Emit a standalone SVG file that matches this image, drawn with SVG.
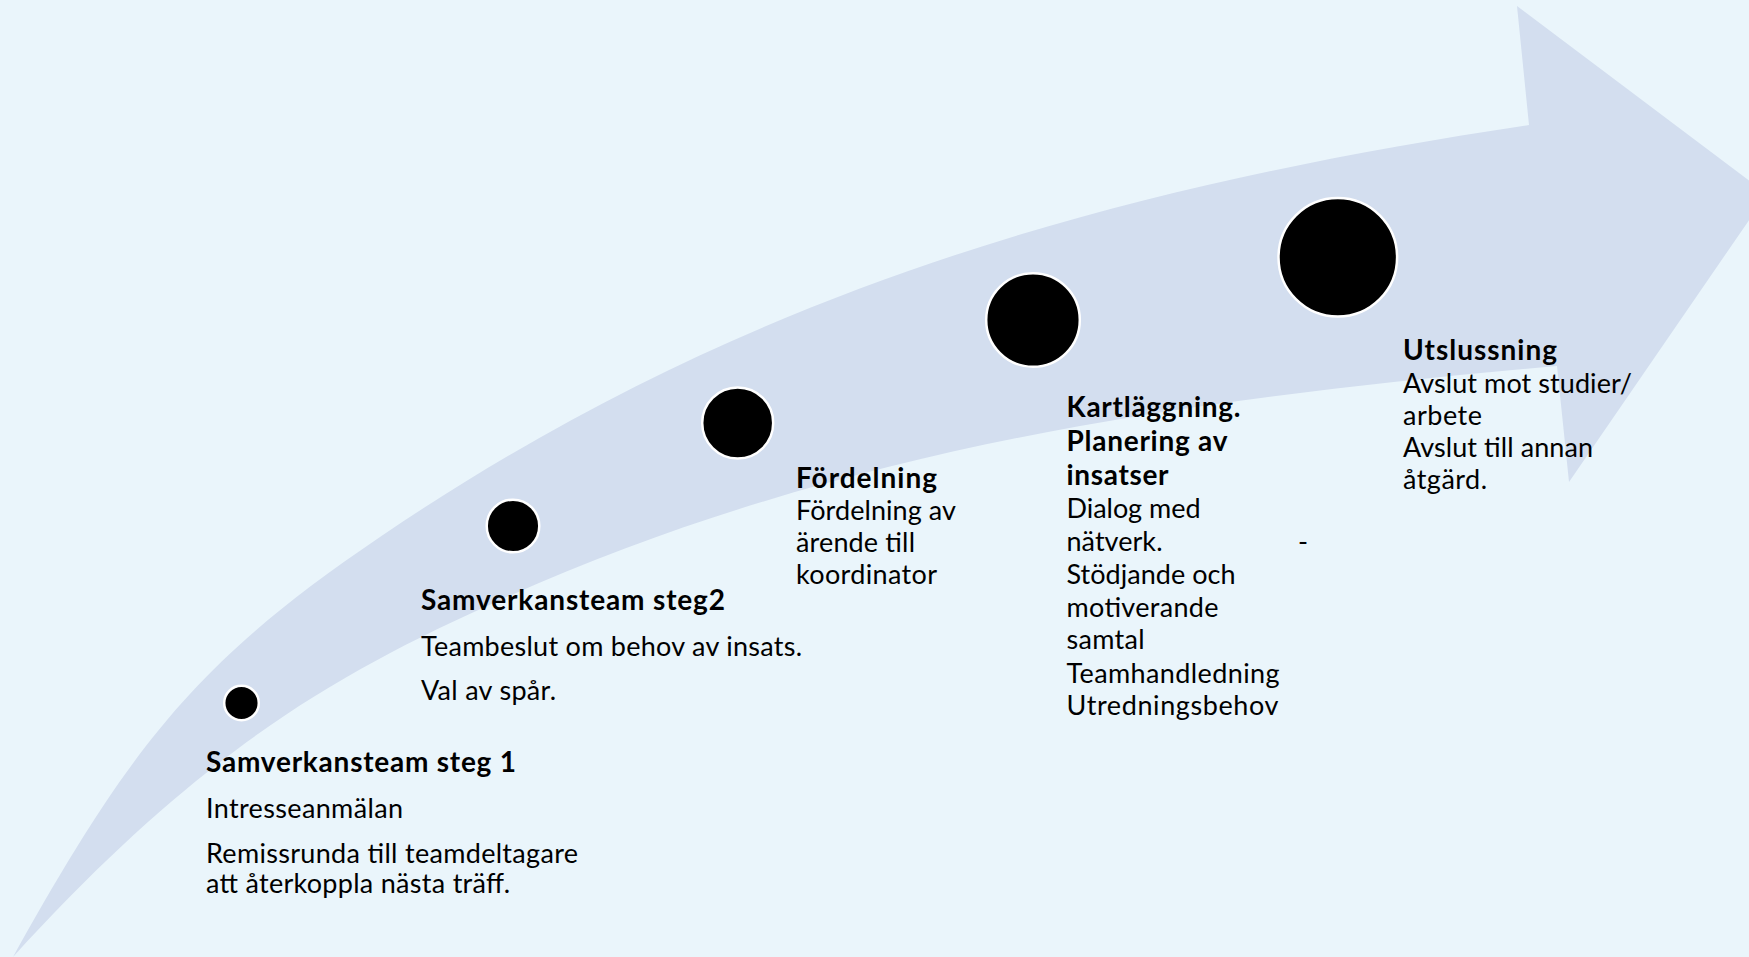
<svg xmlns="http://www.w3.org/2000/svg" width="1749" height="957" viewBox="0 0 1749 957">
<style>
.t{font-family:Lato,"Open Sans","Liberation Sans",sans-serif;font-size:27px;fill:#000}
.b{font-weight:bold;font-size:28px}
.dot{fill:#000;stroke:#fff;stroke-width:2.5}
</style>
<rect x="0" y="0" width="1749" height="957" fill="#EAF5FB"/>
<g id="arrow">
<path d="M13,957 C133,741 200,659 380,537 C750,285 1129,185 1529,125 L1517,6 L1767,194 L1569,482 L1557,366 C1207,397.5 850,442.5 500,600 C340,672 203,748 13,957 Z" fill="#D3DEEF"/>
</g>
<g id="connectors"></g>
<g id="step1">
<circle class="dot" cx="241.5" cy="703" r="17.3"/>
<text class="t b" x="206" y="771.5" textLength="310" lengthAdjust="spacing">Samverkansteam steg 1</text>
<text class="t" x="206" y="818" textLength="197" lengthAdjust="spacing">Intresseanmälan</text>
<text class="t" x="206" y="862.5" textLength="372" lengthAdjust="spacing">Remissrunda till teamdeltagare</text>
<text class="t" x="206" y="893.3" textLength="304" lengthAdjust="spacing">att återkoppla nästa träff.</text>
</g>
<g id="step2">
<circle class="dot" cx="513" cy="526" r="26.3"/>
<text class="t b" x="421" y="609.5" textLength="304" lengthAdjust="spacing">Samverkansteam steg2</text>
<text class="t" x="421" y="656" textLength="381" lengthAdjust="spacing">Teambeslut om behov av insats.</text>
<text class="t" x="421" y="700" textLength="135" lengthAdjust="spacing">Val av spår.</text>
</g>
<g id="step3">
<circle class="dot" cx="737.7" cy="423" r="35.5"/>
<text class="t b" x="796" y="487.5" textLength="141" lengthAdjust="spacing">Fördelning</text>
<text class="t" x="796" y="520" textLength="160" lengthAdjust="spacing">Fördelning av</text>
<text class="t" x="796" y="552" textLength="119" lengthAdjust="spacing">ärende till</text>
<text class="t" x="796" y="583.5" textLength="141" lengthAdjust="spacing">koordinator</text>
</g>
<g id="step4">
<circle class="dot" cx="1033" cy="320" r="46.8"/>
<text class="t b" x="1066.5" y="417" textLength="174" lengthAdjust="spacing">Kartläggning.</text>
<text class="t b" x="1066.5" y="450.5" textLength="161" lengthAdjust="spacing">Planering av</text>
<text class="t b" x="1066.5" y="484.5" textLength="102" lengthAdjust="spacing">insatser</text>
<text class="t" x="1066.5" y="518" textLength="134" lengthAdjust="spacing">Dialog med</text>
<text class="t" x="1066.5" y="551" textLength="96" lengthAdjust="spacing">nätverk.</text>
<text class="t" x="1298" y="551">-</text>
<text class="t" x="1066.5" y="584" textLength="169" lengthAdjust="spacing">Stödjande och</text>
<text class="t" x="1066.5" y="616.5" textLength="152" lengthAdjust="spacing">motiverande</text>
<text class="t" x="1066.5" y="649" textLength="78" lengthAdjust="spacing">samtal</text>
<text class="t" x="1066.5" y="682.5" textLength="213" lengthAdjust="spacing">Teamhandledning</text>
<text class="t" x="1066.5" y="715" textLength="212" lengthAdjust="spacing">Utredningsbehov</text>
</g>
<g id="step5">
<circle class="dot" cx="1337.8" cy="257.2" r="59.3"/>
<text class="t b" x="1403" y="360" textLength="154" lengthAdjust="spacing">Utslussning</text>
<text class="t" x="1403" y="392.7" textLength="229" lengthAdjust="spacing">Avslut mot studier/</text>
<text class="t" x="1403" y="425" textLength="79" lengthAdjust="spacing">arbete</text>
<text class="t" x="1403" y="457.3" textLength="190" lengthAdjust="spacing">Avslut till annan</text>
<text class="t" x="1403" y="488.7" textLength="84" lengthAdjust="spacing">åtgärd.</text>
</g>
</svg>
